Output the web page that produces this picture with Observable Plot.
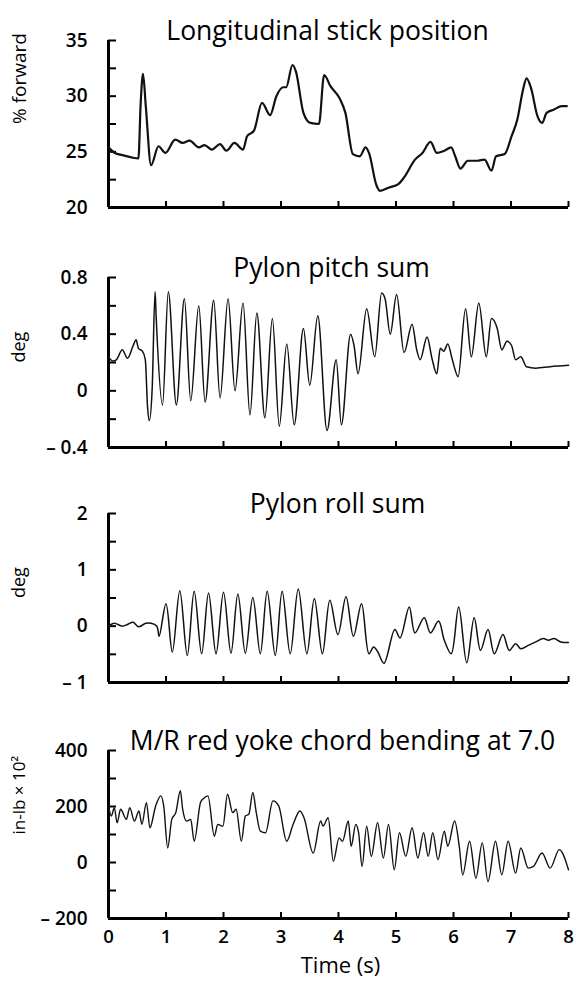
<!DOCTYPE html>
<html>
<head>
<meta charset="utf-8">
<script src="https://cdn.jsdelivr.net/npm/d3@7"></script>
<script src="https://cdn.jsdelivr.net/npm/@observablehq/plot@0.6"></script>
<style>
  body { margin: 0; background: #fff; }
  #chart { width: 576px; height: 985px; background: #fff; }
  #chart svg { display: block; }
</style>
</head>
<body>
<div id="chart"></div>
<script>
// Time axis (s)
const timeTicks = [0, 1, 2, 3, 4, 5, 6, 7, 8];
const timeTickLabels = ["0", "1", "2", "3", "4", "5", "6", "7", "8"];

// Panel titles and y-axis labels
const panelTitles = [
  "Longitudinal stick position",
  "Pylon pitch sum",
  "Pylon roll sum",
  "M/R red yoke chord bending at 7.0"
];
const yLabels = ["% forward", "deg", "deg", "in-lb × 10²"];

// Y tick values (all tick marks), labelled values and their labels
const stickTicks = [20, 22.5, 25, 27.5, 30, 32.5, 35];
const stickLabelValues = [35, 30, 25, 20];
const stickLabels = ["35", "30", "25", "20"];

const pitchTicks = [-0.4, -0.2, 0, 0.2, 0.4, 0.6, 0.8];
const pitchLabelValues = [0.8, 0.4, 0, -0.4];
const pitchLabels = ["0.8", "0.4", "0", "– 0.4"];

const rollTicks = [-1, -0.5, 0, 0.5, 1, 1.5, 2];
const rollLabelValues = [2, 1, 0, -1];
const rollLabels = ["2", "1", "0", "– 1"];

const chordTicks = [-200, -100, 0, 100, 200, 300, 400];
const chordLabelValues = [400, 200, 0, -200];
const chordLabels = ["400", "200", "0", "– 200"];

// Time histories: [time (s), value]
const stickPosition = [
  [0, 25.4], [0.11, 24.9], [0.24, 24.7], [0.4, 24.5], [0.52, 24.4], [0.56, 29.4], [0.6, 32.0],
  [0.65, 29.0], [0.74, 23.8], [0.87, 25.5], [0.99, 24.9], [1.16, 26.1], [1.29, 25.8], [1.41, 26.0],
  [1.57, 25.4], [1.67, 25.6], [1.8, 25.2], [1.94, 25.7], [2.05, 25.1], [2.19, 25.8], [2.34, 25.2],
  [2.41, 26.4], [2.53, 26.9], [2.67, 29.4], [2.81, 28.3], [2.92, 30.0], [3.04, 30.8], [3.09, 30.8],
  [3.2, 32.8], [3.26, 32.2], [3.39, 28.5], [3.51, 27.6], [3.66, 27.5], [3.75, 31.9], [3.86, 30.9],
  [4.02, 29.8], [4.12, 28.5], [4.25, 24.8], [4.37, 24.6], [4.47, 25.4], [4.53, 24.9], [4.66, 22.0],
  [4.72, 21.5], [4.88, 21.8], [5.04, 22.1], [5.14, 22.7], [5.33, 24.3], [5.46, 24.9], [5.6, 25.9],
  [5.71, 24.9], [5.84, 25.1], [5.96, 25.4], [6.03, 24.6], [6.12, 23.5], [6.25, 24.2], [6.41, 24.2],
  [6.54, 24.3], [6.66, 23.3], [6.74, 24.6], [6.89, 24.8], [7.01, 26.4], [7.11, 27.9], [7.21, 30.6],
  [7.27, 31.6], [7.35, 30.7], [7.46, 28.2], [7.54, 27.6], [7.62, 28.5], [7.75, 28.8], [7.88, 29.1],
  [7.97, 29.1]
];

const pylonPitch = [
  [0, 0.24], [0.08, 0.21], [0.14, 0.22], [0.24, 0.29], [0.33, 0.23], [0.43, 0.32], [0.48, 0.36],
  [0.52, 0.30], [0.59, 0.28], [0.64, 0.22], [0.68, -0.12], [0.71, -0.21], [0.76, 0.02], [0.81, 0.70],
  [0.83, 0.51], [0.94, -0.10], [1.04, 0.70], [1.18, -0.10], [1.32, 0.65], [1.43, -0.07], [1.57, 0.60],
  [1.68, -0.08], [1.83, 0.64], [1.94, -0.05], [2.08, 0.65], [2.2, 0.0], [2.34, 0.62], [2.46, -0.17],
  [2.58, 0.55], [2.72, -0.19], [2.85, 0.51], [2.97, -0.25], [3.1, 0.33], [3.23, -0.24], [3.39, 0.44],
  [3.5, 0.04], [3.64, 0.53], [3.8, -0.28], [3.96, 0.22], [4.05, -0.24], [4.21, 0.40], [4.27, 0.32],
  [4.34, 0.12], [4.49, 0.58], [4.63, 0.24], [4.75, 0.69], [4.81, 0.65], [4.9, 0.40], [5.01, 0.68],
  [5.14, 0.27], [5.28, 0.47], [5.36, 0.29], [5.42, 0.22], [5.54, 0.38], [5.63, 0.22], [5.71, 0.12],
  [5.77, 0.30], [5.83, 0.28], [5.9, 0.33], [5.98, 0.22], [6.08, 0.10], [6.21, 0.58], [6.31, 0.24],
  [6.44, 0.62], [6.57, 0.24], [6.66, 0.51], [6.76, 0.44], [6.84, 0.29], [6.93, 0.35], [7.01, 0.32],
  [7.08, 0.22], [7.17, 0.24], [7.27, 0.17], [7.43, 0.16], [7.68, 0.17], [8.0, 0.18]
];

const pylonRoll = [
  [0, 0.0], [0.1, 0.05], [0.24, 0.0], [0.33, 0.03], [0.43, 0.07], [0.52, -0.01], [0.65, 0.05],
  [0.74, 0.05], [0.84, 0.0], [0.88, -0.18], [1.0, 0.40], [1.11, -0.46], [1.24, 0.63], [1.37, -0.52],
  [1.49, 0.62], [1.62, -0.49], [1.74, 0.59], [1.87, -0.49], [2.0, 0.60], [2.13, -0.48], [2.25, 0.57],
  [2.38, -0.48], [2.51, 0.51], [2.64, -0.49], [2.76, 0.62], [2.9, -0.52], [3.02, 0.62], [3.16, -0.49],
  [3.3, 0.66], [3.45, -0.49], [3.58, 0.49], [3.72, -0.49], [3.85, 0.46], [3.99, -0.15], [4.13, 0.52],
  [4.26, -0.18], [4.4, 0.40], [4.53, -0.49], [4.61, -0.37], [4.68, -0.45], [4.79, -0.66], [4.98, -0.06],
  [5.07, -0.21], [5.23, 0.34], [5.33, -0.12], [5.49, 0.15], [5.6, -0.12], [5.74, 0.09], [5.84, -0.25],
  [5.96, -0.49], [6.09, 0.34], [6.23, -0.65], [6.36, 0.15], [6.47, -0.43], [6.6, -0.06], [6.71, -0.49],
  [6.86, -0.15], [6.97, -0.43], [7.08, -0.31], [7.17, -0.40], [7.3, -0.34], [7.43, -0.28], [7.56, -0.22],
  [7.65, -0.25], [7.75, -0.22], [7.87, -0.28], [8.0, -0.29]
];

const chordBending = [
  [0, 202], [0.05, 166], [0.1, 196], [0.15, 142], [0.21, 190], [0.31, 154], [0.37, 196], [0.45, 148],
  [0.53, 184], [0.58, 136], [0.66, 214], [0.72, 124], [0.82, 202], [0.91, 238], [0.96, 202], [1.03, 52],
  [1.1, 154], [1.17, 178], [1.25, 256], [1.29, 190], [1.36, 148], [1.43, 154], [1.49, 76], [1.6, 214],
  [1.65, 228], [1.73, 238], [1.84, 94], [1.9, 136], [1.99, 130], [2.07, 244], [2.16, 178], [2.22, 190],
  [2.31, 76], [2.38, 166], [2.44, 172], [2.51, 250], [2.57, 178], [2.64, 112], [2.73, 106], [2.86, 220],
  [2.96, 202], [3.1, 76], [3.21, 136], [3.33, 184], [3.4, 160], [3.56, 34], [3.69, 148], [3.73, 130],
  [3.82, 160], [3.91, 4], [4.01, 88], [4.07, 76], [4.17, 148], [4.22, 58], [4.3, 136], [4.35, 106],
  [4.41, -14], [4.49, 130], [4.57, 22], [4.68, 142], [4.78, 16], [4.87, 136], [4.97, -26], [5.06, 106],
  [5.17, 22], [5.28, 124], [5.38, 16], [5.48, 106], [5.56, 22], [5.64, 106], [5.73, 10], [5.84, 112],
  [5.9, 58], [6.02, 148], [6.1, 58], [6.16, -44], [6.28, 76], [6.39, -56], [6.5, 70], [6.6, -68],
  [6.73, 76], [6.84, -44], [6.95, 76], [7.08, -38], [7.17, 52], [7.3, -20], [7.39, -14], [7.54, 34],
  [7.68, -20], [7.84, 46], [8.0, -26]
];

// ---- layout ----
const WIDTH = 576;
const MARGIN_LEFT = 108;
const MARGIN_RIGHT = 8;
const FONT = '"Open Sans", "Noto Sans", sans-serif';

const panels = [
  {data: stickPosition, ticks: stickTicks, labelValues: stickLabelValues, labels: stickLabels,
   height: 237, marginTop: 40, marginBottom: 30, lineWidth: 2.2, curve: "monotone-x",
   titleDx: -11, yLabelSize: 19},
  {data: pylonPitch, ticks: pitchTicks, labelValues: pitchLabelValues, labels: pitchLabels,
   height: 237, marginTop: 40, marginBottom: 27, lineWidth: 1.5, curve: "monotone-x",
   titleDx: -7, yLabelSize: 18},
  {data: pylonRoll, ticks: rollTicks, labelValues: rollLabelValues, labels: rollLabels,
   height: 237, marginTop: 39, marginBottom: 29, lineWidth: 1.5, curve: "catmull-rom",
   titleDx: -1, yLabelSize: 18},
  {data: chordBending, ticks: chordTicks, labelValues: chordLabelValues, labels: chordLabels,
   height: 274, marginTop: 39, marginBottom: 67, lineWidth: 1.4, curve: "monotone-x",
   titleDx: 4, yLabelSize: 17}
];

const chart = document.getElementById("chart");

panels.forEach((p, i) => {
  const innerW = WIDTH - MARGIN_LEFT - MARGIN_RIGHT;
  const innerH = p.height - p.marginTop - p.marginBottom;
  const yDomain = d3.extent(p.ticks);
  const isLast = i === panels.length - 1;
  const labelOf = v => p.labels[p.labelValues.indexOf(v)];

  const marks = [
    // tick marks pointing into the plot
    Plot.tickY(p.ticks, {y: d => d, stroke: "#000", strokeWidth: 2, insetRight: innerW - 8}),
    Plot.tickX(timeTicks.slice(1), {x: d => d, stroke: "#000", strokeWidth: 2, insetTop: innerH - 6}),
    // axis lines
    Plot.ruleX([0], {stroke: "#000", strokeWidth: 3}),
    Plot.ruleY([yDomain[0]], {stroke: "#000", strokeWidth: 3}),
    // y tick labels
    Plot.axisY({ticks: p.labelValues, tickSize: 0, tickPadding: 21, tickFormat: labelOf,
                fontSize: 19, fontWeight: 600, fill: "#000", label: null}),
    // the trace
    Plot.line(p.data, {x: d => d[0], y: d => d[1], curve: p.curve, stroke: "#111",
                       strokeWidth: p.lineWidth, strokeLinejoin: "round", strokeLinecap: "round"}),
    // panel title
    Plot.text([panelTitles[i]], {frameAnchor: "top", dx: p.titleDx, dy: -19, fontSize: 26.5,
                                 fontWeight: 500, fill: "#000", text: d => d}),
    // y-axis label
    Plot.text([yLabels[i]], {frameAnchor: "left", dx: -89, rotate: -90, fontSize: p.yLabelSize,
                             fontWeight: 400, fill: "#000", text: d => d})
  ];

  if (isLast) {
    marks.push(
      Plot.axisX({ticks: timeTicks, tickSize: 0, tickPadding: 11,
                  tickFormat: v => timeTickLabels[timeTicks.indexOf(v)], fontSize: 18.5,
                  fontWeight: 600, fill: "#000", label: null}),
      Plot.text(["Time (s)"], {frameAnchor: "bottom", dx: 2, dy: 54, fontSize: 22, fontWeight: 500,
                               fill: "#000", text: d => d})
    );
  }

  const svg = Plot.plot({
    width: WIDTH,
    height: p.height,
    marginLeft: MARGIN_LEFT,
    marginRight: MARGIN_RIGHT,
    marginTop: p.marginTop,
    marginBottom: p.marginBottom,
    x: {domain: [0, 8], axis: null},
    y: {domain: yDomain, axis: null},
    style: {fontFamily: FONT, color: "#000", background: "#fff", overflow: "visible"},
    marks
  });
  chart.appendChild(svg);
});
</script>
</body>
</html>
